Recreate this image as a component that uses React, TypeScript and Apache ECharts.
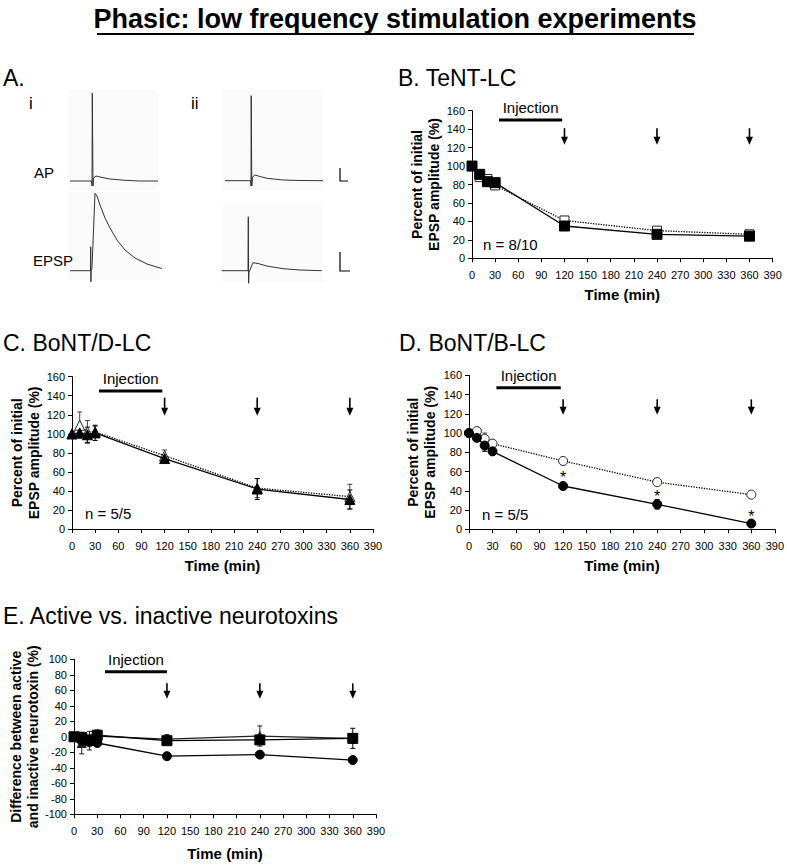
import React, { useEffect, useRef } from "react";
import * as echarts from "echarts";

// ---------- Data ----------
const TIME = [0, 10, 20, 30, 120, 240, 360];

// B. TeNT-LC
const B_ACTIVE = [100, 91, 83, 82, 35, 26, 24];
const B_ACTIVE_ERR = [0, 2, 2, 2, 2, 2, 2];
const B_INACTIVE = [100, 88, 86, 79, 41, 30, 26];
const B_INACTIVE_ERR = [0, 2, 2, 2, 2, 2, 2];

// C. BoNT/D-LC
const C_ACTIVE = [100, 101, 99, 101, 74, 42, 31];
const C_ACTIVE_ERR = [0, 4, 8, 8, 4, 11, 10];
const C_INACTIVE = [100, 109, 102, 102, 77, 43, 34];
const C_INACTIVE_ERR = [0, 14, 12, 6, 6, 10, 13];

// D. BoNT/B-LC
const D_ACTIVE = [100, 95, 87, 81, 45, 26, 6];
const D_ACTIVE_ERR = [0, 3, 6, 4, 3, 5, 2];
const D_INACTIVE = [100, 102, 94, 89, 71, 49, 36];
const D_INACTIVE_ERR = [0, 2, 6, 4, 2, 2, 3];
const D_SIGNIFICANT = [120, 240, 360];
const D_STAR_Y = [57, 37, 16];

// E. Active vs inactive (difference)
const E_TENT = [0, -1, -4, 2, -5, -4, -2];
const E_TENT_ERR = [0, 3, 3, 3, 3, 3, 13];
const E_BONTD = [0, -8, -5, 1, -3, 1, -2];
const E_BONTD_ERR = [0, 14, 12, 8, 6, 13, 6];
const E_BONTB = [0, -5, -7, -8, -25, -23, -30];
const E_BONTB_ERR = [0, 3, 4, 4, 3, 4, 2];

// injection period (min) and arrow times
const INJ_START = 35;
const INJ_END = 117;
const ARROW_TIMES = [120, 240, 360];

// A. example traces (arbitrary time / amplitude units)
const AP_I = [[10, 109], [31.5, 109], [32, 104], [32.3, 197], [32.8, 197], [33, 104], [33.5, 112], [36, 114], [40, 113], [50, 111], [65, 109.7], [80, 109], [98, 109]];
const EPSP_I = [[10, 19.3], [30.5, 19.3], [30.7, 43.3], [30.9, 8.3], [31.2, 19.5], [32, 22], [35, 96.7], [37, 94], [40, 85], [45, 72], [50, 62], [57, 50], [65, 40], [75, 32], [87, 26], [100, 22], [102, 21.5]];
const AP_II = [[165, 109.3], [190.5, 109.3], [191, 104], [191.2, 194.3], [191.6, 194.3], [191.8, 104], [192.5, 113], [195, 115], [200, 113.5], [207, 111.7], [223, 110], [240, 109.5], [263, 109.3]];
const EPSP_II = [[161.7, 19.3], [188, 19.3], [188.3, 73.3], [188.6, 6.7], [189, 18], [190, 20], [193, 27.3], [198, 26.5], [206.7, 24], [223, 21.3], [240, 20], [261.7, 19.3]];

const FONT = '"Liberation Sans", Arial, Helvetica, sans-serif';

const zip = (xs: number[], ys: number[]) => xs.map((x, i) => [x, ys[i]]);

function errSeries(idx: number, vals: number[], errs: number[], color: string) {
  return {
    type: "custom",
    xAxisIndex: idx,
    yAxisIndex: idx,
    silent: true,
    z: 1,
    encode: { x: 0, y: [1, 2] },
    data: TIME.map((t, i) => [t, vals[i] - errs[i], vals[i] + errs[i]]).filter((d, i) => errs[i] > 0),
    renderItem: (_p: any, api: any) => {
      const lo = api.coord([api.value(0), api.value(1)]);
      const hi = api.coord([api.value(0), api.value(2)]);
      const w = 2.5;
      const st = { stroke: color, lineWidth: 1 };
      return {
        type: "group",
        children: [
          { type: "line", shape: { x1: lo[0], y1: lo[1], x2: hi[0], y2: hi[1] }, style: st },
          { type: "line", shape: { x1: lo[0] - w, y1: lo[1], x2: lo[0] + w, y2: lo[1] }, style: st },
          { type: "line", shape: { x1: hi[0] - w, y1: hi[1], x2: hi[0] + w, y2: hi[1] }, style: st },
        ],
      };
    },
  };
}

function injectionSeries(idx: number, yv: number, start = INJ_START, end = INJ_END) {
  return {
    type: "custom",
    xAxisIndex: idx,
    yAxisIndex: idx,
    silent: true,
    z: 5,
    encode: { x: [0, 1], y: 2 },
    data: [[start, end, yv]],
    renderItem: (_p: any, api: any) => {
      const a = api.coord([api.value(0), api.value(2)]);
      const b = api.coord([api.value(1), api.value(2)]);
      return {
        type: "group",
        children: [
          { type: "line", shape: { x1: a[0], y1: a[1], x2: b[0], y2: b[1] }, style: { stroke: "#000", lineWidth: 3 } },
          {
            type: "text",
            x: (a[0] + b[0]) / 2,
            y: a[1] - 5,
            style: { text: "Injection", fill: "#000", font: `15px ${FONT}`, textAlign: "center", textVerticalAlign: "bottom" },
          },
        ],
      };
    },
  };
}

function arrowSeries(idx: number, top: number, bottom: number) {
  return {
    type: "custom",
    xAxisIndex: idx,
    yAxisIndex: idx,
    silent: true,
    z: 5,
    encode: { x: 0, y: [1, 2] },
    data: ARROW_TIMES.map((t) => [t, top, bottom]),
    renderItem: (_p: any, api: any) => {
      const a = api.coord([api.value(0), api.value(1)]);
      const b = api.coord([api.value(0), api.value(2)]);
      const hh = 8;
      const hw = 3.5;
      return {
        type: "group",
        children: [
          { type: "line", shape: { x1: a[0], y1: a[1], x2: b[0], y2: b[1] - hh + 1 }, style: { stroke: "#000", lineWidth: 1.6 } },
          {
            type: "polygon",
            shape: { points: [[b[0] - hw, b[1] - hh], [b[0] + hw, b[1] - hh], [b[0], b[1]]] },
            style: { fill: "#000" },
          },
        ],
      };
    },
  };
}

function activeLine(idx: number, vals: number[], symbol: string, size: number, color = "#000") {
  return {
    type: "line",
    xAxisIndex: idx,
    yAxisIndex: idx,
    data: zip(TIME, vals),
    symbol,
    symbolSize: size,
    showAllSymbol: true,
    itemStyle: { color, borderColor: color },
    lineStyle: { color, width: 1.3, type: "solid" },
    z: 4,
    silent: true,
  };
}

function inactiveLine(idx: number, vals: number[], symbol: string, size: number) {
  return {
    type: "line",
    xAxisIndex: idx,
    yAxisIndex: idx,
    data: zip(TIME, vals),
    symbol,
    symbolSize: size,
    showAllSymbol: true,
    itemStyle: { color: "#fff", borderColor: "#222", borderWidth: 1 },
    lineStyle: { color: "#000", width: 1.3, type: "dotted" },
    z: 3,
    silent: true,
  };
}

function traceSeries(data: number[][]) {
  return {
    type: "line",
    xAxisIndex: 0,
    yAxisIndex: 0,
    data,
    showSymbol: false,
    symbol: "none",
    lineStyle: { color: "#333", width: 1 },
    silent: true,
    z: 3,
  };
}

function xAxisFor(idx: number, nameGap: number) {
  return {
    type: "value",
    gridIndex: idx,
    min: 0,
    max: 390,
    interval: 30,
    name: "Time (min)",
    nameLocation: "middle",
    nameGap,
    nameTextStyle: { fontFamily: FONT, fontWeight: "bold", fontSize: 15, color: "#000" },
    axisLine: { onZero: false, lineStyle: { color: "#000", width: 1 } },
    axisTick: { show: true, length: 4, lineStyle: { color: "#000" } },
    axisLabel: { fontFamily: FONT, fontSize: 11, color: "#000", margin: 11, showMinLabel: true, showMaxLabel: true },
    splitLine: { show: false },
  };
}

function yAxisFor(idx: number, name: string, min: number, max: number, nameGap: number) {
  return {
    type: "value",
    gridIndex: idx,
    min,
    max,
    interval: 20,
    name,
    nameLocation: "middle",
    nameGap,
    nameRotate: 90,
    nameTextStyle: { fontFamily: FONT, fontWeight: "bold", fontSize: 14, lineHeight: 17, color: "#000" },
    axisLine: { show: true, onZero: false, lineStyle: { color: "#000", width: 1 } },
    axisTick: { show: true, length: 4, lineStyle: { color: "#000" } },
    axisLabel: { fontFamily: FONT, fontSize: 11, color: "#000", margin: 7 },
    splitLine: { show: false },
  };
}

const txt = (x: number, y: number, text: string, size: number, opts: any = {}) => ({
  type: "text",
  x,
  y,
  z: 10,
  style: {
    text,
    fill: "#000",
    font: `${opts.bold ? "bold " : ""}${size}px ${opts.family || FONT}`,
    textAlign: opts.align || "left",
    textVerticalAlign: "middle",
  },
});

export default function App() {
  const ref = useRef<HTMLDivElement>(null);

  useEffect(() => {
    if (!ref.current) return;
    const chart = echarts.init(ref.current, undefined, { renderer: "svg" });

    const yName1 = "Percent of initial\nEPSP amplitude (%)";
    const yName2 = "Difference between active\nand inactive neurotoxin (%)";

    const option: any = {
      animation: false,
      backgroundColor: "#fff",
      grid: [
        { left: 60, top: 85, width: 300, height: 205 },
        { left: 472, top: 110.7, width: 300.6, height: 147.6 },
        { left: 72, top: 376.7, width: 301, height: 152.3 },
        { left: 469, top: 375.3, width: 307, height: 154 },
        { left: 74, top: 659.3, width: 302, height: 155 },
      ],
      xAxis: [
        { type: "value", gridIndex: 0, min: 0, max: 300, show: false },
        xAxisFor(1, 29),
        xAxisFor(2, 29),
        xAxisFor(3, 29),
        xAxisFor(4, 32),
      ],
      yAxis: [
        { type: "value", gridIndex: 0, min: 0, max: 205, show: false },
        yAxisFor(1, yName1, 0, 160, 30),
        yAxisFor(2, yName1, 0, 160, 30),
        yAxisFor(3, yName1, 0, 160, 31),
        yAxisFor(4, yName2, -100, 100, 24),
      ],
      series: [
        // A traces
        traceSeries(AP_I),
        traceSeries(EPSP_I),
        traceSeries(AP_II),
        traceSeries(EPSP_II),
        // B
        errSeries(1, B_INACTIVE, B_INACTIVE_ERR, "#444"),
        errSeries(1, B_ACTIVE, B_ACTIVE_ERR, "#000"),
        inactiveLine(1, B_INACTIVE, "rect", 9),
        activeLine(1, B_ACTIVE, "rect", 10),
        injectionSeries(1, 150),
        arrowSeries(1, 141, 123),
        // C
        errSeries(2, C_INACTIVE, C_INACTIVE_ERR, "#444"),
        errSeries(2, C_ACTIVE, C_ACTIVE_ERR, "#000"),
        inactiveLine(2, C_INACTIVE, "triangle", 10),
        activeLine(2, C_ACTIVE, "triangle", 10),
        injectionSeries(2, 145),
        arrowSeries(2, 138, 119),
        // D
        errSeries(3, D_INACTIVE, D_INACTIVE_ERR, "#444"),
        errSeries(3, D_ACTIVE, D_ACTIVE_ERR, "#000"),
        inactiveLine(3, D_INACTIVE, "circle", 9),
        activeLine(3, D_ACTIVE, "circle", 9),
        injectionSeries(3, 147),
        arrowSeries(3, 135, 119),
        {
          type: "custom",
          xAxisIndex: 3,
          yAxisIndex: 3,
          silent: true,
          z: 6,
          data: zip(D_SIGNIFICANT, D_STAR_Y),
          renderItem: (_p: any, api: any) => {
            const c = api.coord([api.value(0), api.value(1)]);
            return {
              type: "text",
              x: c[0],
              y: c[1] + 3,
              style: { text: "*", fill: "#000", font: `16px ${FONT}`, textAlign: "center", textVerticalAlign: "middle" },
            };
          },
        },
        // E
        errSeries(4, E_BONTD, E_BONTD_ERR, "#222"),
        errSeries(4, E_TENT, E_TENT_ERR, "#000"),
        errSeries(4, E_BONTB, E_BONTB_ERR, "#000"),
        activeLine(4, E_BONTD, "triangle", 9, "#222"),
        activeLine(4, E_BONTB, "circle", 9),
        activeLine(4, E_TENT, "rect", 10),
        injectionSeries(4, 84, 40, 120),
        arrowSeries(4, 69, 49),
      ],
      graphic: [
        // Page title
        {
          type: "text",
          x: 395,
          y: 19,
          z: 10,
          style: {
            text: "Phasic: low frequency stimulation experiments",
            fill: "#000",
            font: `bold 27px "Liberation Sans Narrow", ${FONT}`,
            textAlign: "center",
            textVerticalAlign: "middle",
          },
        },
        { type: "line", z: 10, shape: { x1: 97, y1: 34, x2: 694, y2: 34 }, style: { stroke: "#000", lineWidth: 2 } },
        // Panel titles
        txt(3, 78, "A.", 23),
        txt(398, 78, "B. TeNT-LC", 23),
        txt(3, 343, "C. BoNT/D-LC", 23),
        txt(399, 343, "D. BoNT/B-LC", 23),
        txt(3, 616, "E. Active vs. inactive neurotoxins", 23),
        // Panel A annotations
        { type: "rect", z: 0, shape: { x: 68, y: 90, width: 90, height: 100 }, style: { fill: "#fafafa" } },
        { type: "rect", z: 0, shape: { x: 68, y: 192, width: 92, height: 88 }, style: { fill: "#fafafa" } },
        { type: "rect", z: 0, shape: { x: 223, y: 90, width: 100, height: 100 }, style: { fill: "#fafafa" } },
        { type: "rect", z: 0, shape: { x: 222, y: 203, width: 101, height: 79 }, style: { fill: "#fafafa" } },
        txt(29, 103, "i", 17),
        txt(191, 103, "ii", 17),
        txt(34, 172, "AP", 15),
        txt(33, 260, "EPSP", 15),
        { type: "polyline", z: 10, shape: { points: [[340, 168], [340, 181], [348, 181]] }, style: { stroke: "#000", lineWidth: 1.2, fill: "none" } },
        { type: "polyline", z: 10, shape: { points: [[340, 252], [340, 271], [350, 271]] }, style: { stroke: "#000", lineWidth: 1.2, fill: "none" } },
        // n labels
        txt(483, 244, "n = 8/10", 15),
        txt(85, 513, "n = 5/5", 15),
        txt(482, 514, "n = 5/5", 15),
      ],
    };

    chart.setOption(option);
    return () => chart.dispose();
  }, []);

  return (
    <div
      ref={ref}
      style={{ position: "absolute", left: 0, top: 0, width: 787, height: 866, background: "#fff" }}
    />
  );
}
